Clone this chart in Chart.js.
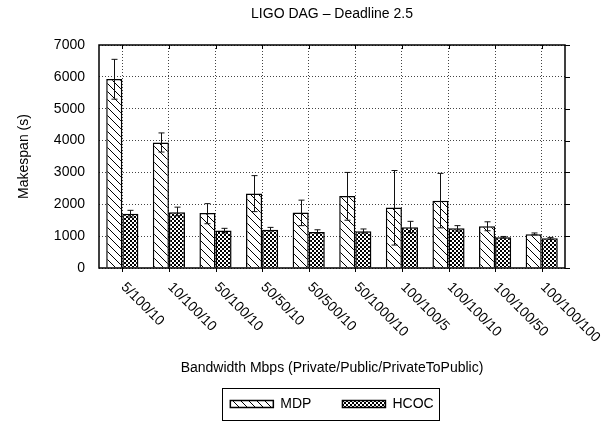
<!DOCTYPE html>
<html>
<head>
<meta charset="utf-8">
<script src="https://cdn.jsdelivr.net/npm/chart.js@4.4.1/dist/chart.umd.min.js"></script>
<style>
  html, body { margin:0; padding:0; background:#fff; }
  #wrap { width:608px; height:421px; }
</style>
</head>
<body>
<div id="wrap"><canvas id="c" width="608" height="421"></canvas></div>
<script>
// Datos
const categorias = ["5/100/10","10/100/10","50/100/10","50/50/10","50/500/10","50/1000/10","100/100/5","100/100/10","100/100/50","100/100/100"];
const mdp      = [5930, 3940, 1730, 2340, 1740, 2260, 1900, 2110, 1310, 1060];
const mdpLow   = [5300, 3640, 1390, 1770, 1330, 1500,  720, 1260, 1170, 1040];
const mdpHigh  = [6550, 4240, 2020, 2900, 2130, 3000, 3060, 2970, 1450, 1100];
const hcoc     = [1700, 1750, 1180, 1200, 1130, 1150, 1280, 1245,  965,  930];
const hcocLow  = [1600, 1640, 1100, 1160, 1090, 1100, 1110, 1160,  940,  900];
const hcocHigh = [1810, 1910, 1245, 1275, 1200, 1225, 1465, 1330,  990,  960];
const yTicks   = [0, 1000, 2000, 3000, 4000, 5000, 6000, 7000];

const FONT = "'Liberation Sans', Arial, Helvetica, sans-serif";
Chart.defaults.font.family = FONT;
Chart.defaults.font.size = 14;
Chart.defaults.color = "#000";

// ==================== Patrones ====================
function patronRayas(){
  const c = document.createElement("canvas"); c.width = 8; c.height = 8;
  const g = c.getContext("2d");
  g.fillStyle = "#fff"; g.fillRect(0,0,8,8);
  g.strokeStyle = "#000"; g.lineWidth = 1;
  g.beginPath();
  g.moveTo(0,0); g.lineTo(8,8);
  g.moveTo(-1,7); g.lineTo(1,9);
  g.moveTo(7,-1); g.lineTo(9,1);
  g.stroke();
  return g.createPattern(c, "repeat");
}
function patronCuadros(){
  const c = document.createElement("canvas"); c.width = 4; c.height = 4;
  const g = c.getContext("2d");
  g.fillStyle = "#000"; g.fillRect(0,0,4,4);
  g.fillStyle = "#fff";
  g.fillRect(0,0,2,2); g.fillRect(2,2,2,2);
  return g.createPattern(c, "repeat");
}

// ==================== Plugins ====================
const errorBars = {
  id: "errorBars",
  afterDatasetsDraw(chart){
    const ctx = chart.ctx, y = chart.scales.y;
    const rangos = [[mdpLow, mdpHigh], [hcocLow, hcocHigh]];
    ctx.save();
    ctx.strokeStyle = "#111"; ctx.lineWidth = 1;
    rangos.forEach(([lo, hi], di) => {
      chart.getDatasetMeta(di).data.forEach((bar, i) => {
        const x = Math.round(bar.x) + 0.5;
        const y1 = y.getPixelForValue(lo[i]), y2 = y.getPixelForValue(hi[i]);
        ctx.beginPath();
        ctx.moveTo(x, y1); ctx.lineTo(x, y2);
        ctx.moveTo(x-3, y1); ctx.lineTo(x+3, y1);
        ctx.moveTo(x-3, y2); ctx.lineTo(x+3, y2);
        ctx.stroke();
      });
    });
    ctx.restore();
  }
};

const marco = {
  id: "marco",
  afterDatasetsDraw(chart){
    const {ctx, chartArea:a, scales:{x, y}} = chart;
    ctx.save();
    ctx.strokeStyle = "#000"; ctx.lineWidth = 1.5;
    ctx.strokeRect(a.left, a.top, a.right - a.left, a.bottom - a.top);
    ctx.lineWidth = 1;
    ctx.beginPath();
    categorias.forEach((_, i) => {
      const px = Math.round(x.getPixelForTick(i)) + 0.5;
      ctx.moveTo(px, a.bottom); ctx.lineTo(px, a.bottom + 4);
      ctx.moveTo(px, a.top); ctx.lineTo(px, a.top + 4);
    });
    yTicks.forEach(v => {
      const py = Math.round(y.getPixelForValue(v)) + 0.5;
      ctx.moveTo(a.right, py); ctx.lineTo(a.right + 5, py);
    });
    ctx.stroke();
    ctx.restore();
  },
  afterDraw(chart){
    const {ctx, chartArea:a, scales:{x}} = chart;
    ctx.save();
    // etiquetas del eje x giradas 45 grados
    ctx.font = "14px " + FONT;
    ctx.fillStyle = "#000";
    ctx.textAlign = "left"; ctx.textBaseline = "middle";
    categorias.forEach((lab, i) => {
      ctx.save();
      ctx.translate(x.getPixelForTick(i) + 1, a.bottom + 17);
      ctx.rotate(Math.PI / 4);
      ctx.fillText(lab, 0, 0);
      ctx.restore();
    });
    // recuadro de la leyenda
    const hb = chart.legend.legendHitBoxes;
    if (hb && hb.length){
      const last = hb[hb.length-1];
      const cy = hb[0].top + hb[0].height/2;
      ctx.strokeStyle = "#000"; ctx.lineWidth = 1;
      ctx.strokeRect(Math.round(hb[0].left - 8) + 0.5, Math.round(cy - 16) + 0.5,
                     Math.round(last.left + last.width - hb[0].left + 14), 32);
    }
    ctx.restore();
  }
};

// ==================== Grafico ====================
new Chart(document.getElementById("c").getContext("2d"), {
  type: "bar",
  data: {
    labels: categorias,
    datasets: [
      { label:"MDP",  data: mdp,  backgroundColor: patronRayas(),  borderColor:"#000", borderWidth:1.5 },
      { label:"HCOC", data: hcoc, backgroundColor: patronCuadros(), borderColor:"#000", borderWidth:1.5 }
    ]
  },
  options: {
    responsive:false,
    animation:false,
    devicePixelRatio:1,
    layout:{ padding:{ left:0, right:43, top:0, bottom:0 } },
    datasets:{ bar:{ categoryPercentage:0.69, barPercentage:1.0 } },
    scales:{
      x:{
        grid:{ display:true, offset:false, color:"#444", drawTicks:false },
        border:{ display:false, dash:[1,2] },
        ticks:{ display:false },
        title:{ display:true, text:"Bandwidth Mbps (Private/Public/PrivateToPublic)", font:{size:14}, padding:{top:0, bottom:-10.4} },
        afterFit(s){ s.height = 98; }
      },
      y:{
        min:0, max:7000,
        grid:{ color:"#444", drawTicks:false },
        border:{ display:false, dash:[1,2] },
        ticks:{ stepSize:1000, padding:14, font:{size:14}, callback:(v) => String(v) },
        title:{ display:true, text:"Makespan (s)", font:{size:14}, padding:{top:16, bottom:0} },
        afterFit(s){ s.width = 99; }
      }
    },
    plugins:{
      title:{ display:true, text:"LIGO DAG \u2013 Deadline 2.5", fullSize:false, font:{size:14, weight:"normal"}, color:"#000", padding:{top:6, bottom:22.2} },
      legend:{
        position:"bottom",
        fullSize:false,
        labels:{ boxWidth:43, boxHeight:7, padding:31, color:"#000", font:{size:14} }
      },
      tooltip:{ enabled:false }
    }
  },
  plugins:[errorBars, marco]
});
</script>
</body>
</html>
